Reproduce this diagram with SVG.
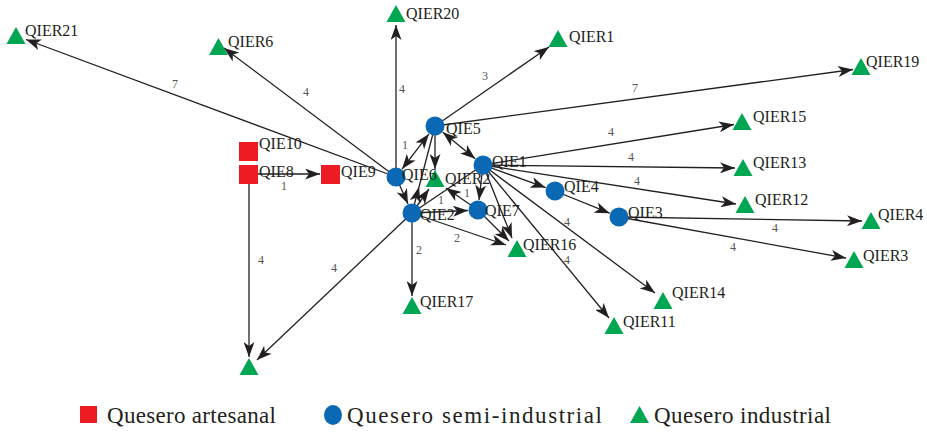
<svg xmlns="http://www.w3.org/2000/svg" xmlns:xlink="http://www.w3.org/1999/xlink" width="927" height="434" viewBox="0 0 927 434">
<style>
.e{fill:none;stroke:#231f20;stroke-width:1.3;marker-end:url(#ah)}
.p{fill:none;stroke:#231f20;stroke-width:1.3}
.b{marker-start:url(#ah)}
.m{marker-end:none;marker-mid:url(#ah)}
text{font-family:'Liberation Serif','Times New Roman','DejaVu Serif',serif}
.el{font-size:12px;fill:#555;text-anchor:middle}
.nl{font-size:16px;fill:#231f20}
.lg{font-size:23px;fill:#231f20}
.t{fill:#00a651}
.c{fill:#0a68b4}
.s{fill:#ed1c24}
</style>
<defs>
<marker id="ah" viewBox="0 0 15 11" refX="15" refY="5.5" markerWidth="15" markerHeight="11" markerUnits="userSpaceOnUse" orient="auto-start-reverse">
<path d="M0,0 L15,5.5 L0,11 L4,5.5 z" fill="#231f20"/>
</marker>
<path id="tri" d="M0,-9 L9.5,8 L-9.5,8 z"/>
</defs>
<rect width="927" height="434" fill="#fff"/>
<g id="connectors">
<path class="e" d="M396,177 L26,39.5"/>
<path class="e" d="M396,177 L224,48"/>
<path class="e" d="M396,177 L396,25"/>
<path class="e" d="M435,126 L549,47"/>
<path class="e" d="M435,126 L853,69.5"/>
<path class="e" d="M483,165 L734,124.5"/>
<path class="e" d="M483,165 L735,168"/>
<path class="e" d="M483,165 L736,204"/>
<path class="e" d="M483,165 L545.6,187.6"/>
<path class="e" d="M555,191 L609.7,213.2"/>
<path class="e" d="M619,217 L862,221"/>
<path class="e" d="M619,217 L846,258"/>
<path class="e" d="M483,165 L655,293"/>
<path class="e" d="M483,165 L609,318"/>
<path class="e" d="M483,165 L512,238"/>
<path class="e" d="M483,165 L479,200"/>
<path class="e" d="M478,210 L509,241"/>
<path class="e" d="M412,213 L506,245"/>
<path class="e" d="M412,213 L468,210.5"/>
<path class="e" d="M478,210 L446,188"/>
<path class="e" d="M412,213 L429,189"/>
<path class="e m" d="M412,213 L419,187 L435,126"/>
<path class="e" d="M412,213 L412,296"/>
<path class="e" d="M412,213 L257,360"/>
<path class="e" d="M249,174 L249,357"/>
<path class="e" d="M249,174 L320,174"/>
<path class="e" d="M396,177 L408,204"/>
<path class="e b" d="M428.9,133.9 L402.1,169.1"/>
<path class="e b" d="M442.8,132.3 L475.2,158.7"/>
<path class="e" d="M435,126 L435,169"/>
<path class="p" d="M412,213 L483,165"/>
<text class="el" x="175" y="88">7</text>
<text class="el" x="306" y="96">4</text>
<text class="el" x="402" y="93">4</text>
<text class="el" x="485" y="80">3</text>
<text class="el" x="635" y="92">7</text>
<text class="el" x="611" y="136">4</text>
<text class="el" x="631" y="161">4</text>
<text class="el" x="637" y="185">4</text>
<text class="el" x="775" y="232">4</text>
<text class="el" x="733" y="251">4</text>
<text class="el" x="567" y="226">4</text>
<text class="el" x="567" y="264">4</text>
<text class="el" x="441" y="204">1</text>
<text class="el" x="467" y="197">1</text>
<text class="el" x="457" y="242">2</text>
<text class="el" x="419" y="254">2</text>
<text class="el" x="334" y="272">4</text>
<text class="el" x="261" y="264">4</text>
<text class="el" x="284" y="190">1</text>
<text class="el" x="405" y="149">1</text>
</g>
<g id="QIER21"><use xlink:href="#tri" class="t" transform="translate(16,36)"/><text class="nl" x="25" y="36">QIER21</text></g>
<g id="QIER6"><use xlink:href="#tri" class="t" transform="translate(218.5,47)"/><text class="nl" x="228" y="47">QIER6</text></g>
<g id="QIER20"><use xlink:href="#tri" class="t" transform="translate(396,14)"/><text class="nl" x="406" y="19">QIER20</text></g>
<g id="QIER1"><use xlink:href="#tri" class="t" transform="translate(558,39)"/><text class="nl" x="569" y="42">QIER1</text></g>
<g id="QIER19"><use xlink:href="#tri" class="t" transform="translate(861,67)"/><text class="nl" x="866" y="67">QIER19</text></g>
<g id="QIER15"><use xlink:href="#tri" class="t" transform="translate(742,122)"/><text class="nl" x="753" y="122">QIER15</text></g>
<g id="QIER13"><use xlink:href="#tri" class="t" transform="translate(743,168)"/><text class="nl" x="753" y="168">QIER13</text></g>
<g id="QIER12"><use xlink:href="#tri" class="t" transform="translate(745,205)"/><text class="nl" x="755" y="205">QIER12</text></g>
<g id="QIER4"><use xlink:href="#tri" class="t" transform="translate(871,221)"/><text class="nl" x="878" y="220">QIER4</text></g>
<g id="QIER3"><use xlink:href="#tri" class="t" transform="translate(854,260)"/><text class="nl" x="863" y="261">QIER3</text></g>
<g id="QIER14"><use xlink:href="#tri" class="t" transform="translate(663,301)"/><text class="nl" x="672" y="298">QIER14</text></g>
<g id="QIER11"><use xlink:href="#tri" class="t" transform="translate(614,326)"/><text class="nl" x="623" y="327">QIER11</text></g>
<g id="QIER16"><use xlink:href="#tri" class="t" transform="translate(517,249)"/><text class="nl" x="523" y="250">QIER16</text></g>
<g id="QIER17"><use xlink:href="#tri" class="t" transform="translate(412,306)"/><text class="nl" x="420" y="307">QIER17</text></g>
<g id="QIER2"><use xlink:href="#tri" class="t" transform="translate(435,179)"/><text class="nl" x="445" y="184">QIER2</text></g>
<g id="QIER-unlabelled"><use xlink:href="#tri" class="t" transform="translate(249,367)"/></g>
<g id="QIE5"><circle class="c" cx="435" cy="126" r="9.5"/><text class="nl" x="446" y="134">QIE5</text></g>
<g id="QIE1"><circle class="c" cx="483" cy="165" r="9.5"/><text class="nl" x="492" y="167">QIE1</text></g>
<g id="QIE6"><circle class="c" cx="396" cy="177" r="9.5"/><text class="nl" x="402" y="180">QIE6</text></g>
<g id="QIE2"><circle class="c" cx="412" cy="213" r="9.5"/><text class="nl" x="420" y="220">QIE2</text></g>
<g id="QIE7"><circle class="c" cx="478" cy="210" r="9.5"/><text class="nl" x="485" y="216">QIE7</text></g>
<g id="QIE4"><circle class="c" cx="555" cy="191" r="9.5"/><text class="nl" x="564" y="192">QIE4</text></g>
<g id="QIE3"><circle class="c" cx="619" cy="217" r="9.5"/><text class="nl" x="628" y="218">QIE3</text></g>
<g id="QIE10"><rect class="s" x="239" y="142" width="19" height="19"/><text class="nl" x="259" y="149">QIE10</text></g>
<g id="QIE8"><rect class="s" x="239" y="165" width="19" height="19"/><text class="nl" x="259" y="177">QIE8</text></g>
<g id="QIE9"><rect class="s" x="321" y="165" width="19" height="19"/><text class="nl" x="341" y="177">QIE9</text></g>
<g id="legend">
<rect class="s" x="80" y="406" width="17" height="17"/>
<text class="lg" x="107" y="423" textLength="169" lengthAdjust="spacing">Quesero artesanal</text>
<ellipse class="c" cx="333" cy="415" rx="9" ry="10"/>
<text class="lg" x="347" y="423" textLength="255" lengthAdjust="spacing">Quesero semi-industrial</text>
<use xlink:href="#tri" class="t" transform="translate(639.5,415)"/>
<text class="lg" x="654" y="423" textLength="177" lengthAdjust="spacing">Quesero industrial</text>
</g>
</svg>
